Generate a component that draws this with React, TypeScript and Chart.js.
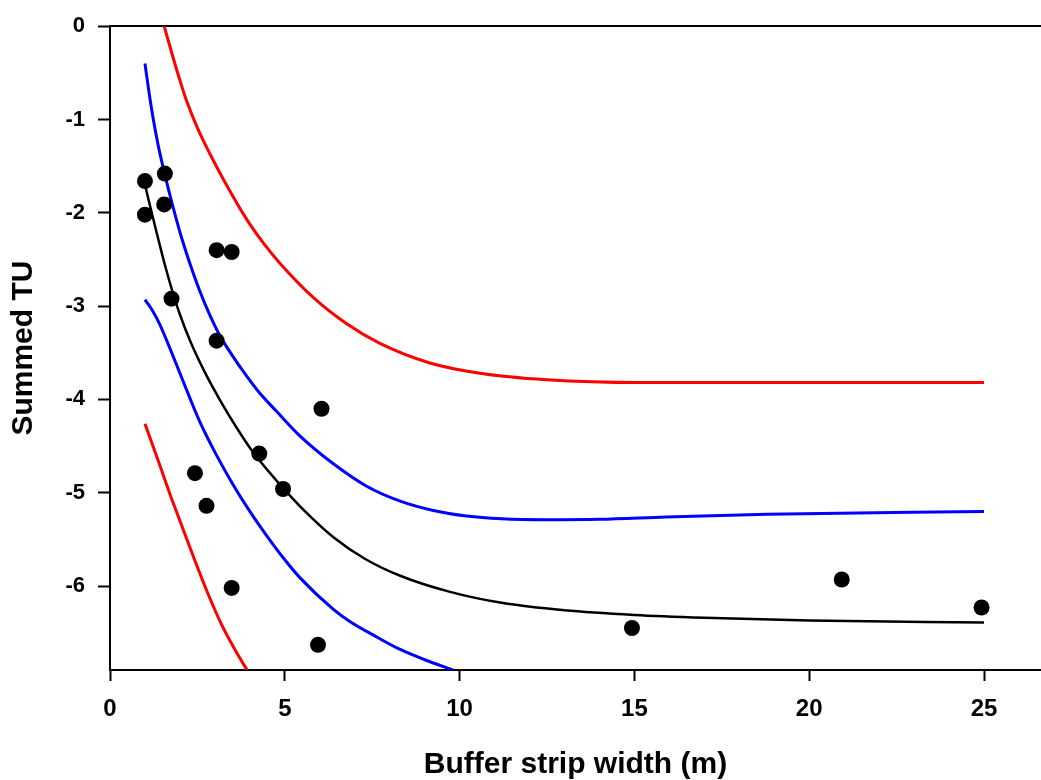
import React, { useEffect, useRef } from "react";
import { Chart, registerables } from "chart.js";

Chart.register(...registerables);

// Observed data points
const obsX = [1, 1, 1.57, 1.55, 3.05, 3.48, 1.76, 3.05, 6.05, 4.27, 4.95, 2.43, 2.76, 3.48, 5.95, 14.93, 20.93, 24.93];
const obsY = [-1.66, -2.02, -1.58, -1.91, -2.4, -2.42, -2.92, -3.37, -4.1, -4.58, -4.96, -4.79, -5.14, -6.02, -6.63, -6.45, -5.93, -6.23];

// Fitted curve (black)
const fitX = [1, 1.2, 1.4, 1.6, 1.8, 2.0, 2.3, 2.7, 3.15, 3.6, 4.1, 4.6, 5.0, 5.5, 6.4, 7.3, 8.3, 9.7, 11.2, 13, 15, 17, 20, 25];
const fitY = [-1.7, -2.01, -2.31, -2.6, -2.86, -3.09, -3.38, -3.7, -4.01, -4.29, -4.57, -4.8, -4.97, -5.17, -5.48, -5.71, -5.89, -6.06, -6.18, -6.26, -6.31, -6.34, -6.37, -6.39];

// Confidence band (blue)
const upperCIX = [1, 1.12, 1.24, 1.38, 1.53, 1.7, 1.89, 2.05, 2.3, 2.57, 2.85, 3.15, 3.5, 3.91, 4.3, 4.77, 5.43, 6.39, 7.34, 8.3, 9.25, 10.2, 11.2, 12.5, 14, 15.9, 18.8, 25];
const upperCIY = [-0.4, -0.72, -1.0, -1.28, -1.53, -1.79, -2.06, -2.27, -2.56, -2.84, -3.09, -3.32, -3.53, -3.75, -3.94, -4.13, -4.39, -4.69, -4.93, -5.09, -5.19, -5.25, -5.28, -5.29, -5.285, -5.26, -5.23, -5.2];
const lowerCIX = [1, 1.2, 1.43, 1.7, 2.0, 2.3, 2.57, 3.05, 3.5, 4.0, 4.5, 4.96, 5.43, 6.39, 6.86, 7.6, 8.3, 9.0, 9.81];
const lowerCIY = [-2.93, -3.04, -3.2, -3.44, -3.72, -4.0, -4.24, -4.6, -4.9, -5.2, -5.47, -5.7, -5.91, -6.25, -6.38, -6.54, -6.68, -6.79, -6.9];

// Prediction band (red)
const upperPIX = [1.55, 1.8, 2.0, 2.19, 2.5, 2.86, 3.3, 3.91, 4.4, 4.86, 5.82, 6.77, 7.72, 9.15, 10.58, 12.49, 15.16, 20, 25];
const upperPIY = [0, -0.33, -0.58, -0.8, -1.09, -1.37, -1.68, -2.07, -2.33, -2.54, -2.91, -3.19, -3.4, -3.61, -3.72, -3.79, -3.82, -3.82, -3.82];
const lowerPIX = [1, 1.4, 1.7, 2.0, 2.4, 2.8, 3.2, 3.6, 3.92];
const lowerPIY = [-4.26, -4.68, -5.0, -5.3, -5.7, -6.08, -6.42, -6.7, -6.9];

const X_MIN = 0;
const X_MAX = 26.63;
const Y_MIN = -6.9;
const Y_MAX = 0;

const xTitle = "Buffer strip width (m)";
const yTitle = "Summed TU";

const FONT = "'Liberation Sans', Arial, Helvetica, sans-serif";

function pts(xs: number[], ys: number[]) {
  return xs.map((x, i) => ({ x, y: ys[i] }));
}

function lineDs(xs: number[], ys: number[], color: string, width: number) {
  return {
    type: "line" as const,
    data: pts(xs, ys),
    borderColor: color,
    backgroundColor: color,
    borderWidth: width,
    pointRadius: 0,
    showLine: true,
    fill: false,
    cubicInterpolationMode: "monotone" as const,
  };
}

export default function App() {
  const ref = useRef<HTMLCanvasElement | null>(null);

  useEffect(() => {
    if (!ref.current) return;
    const chart = new Chart(ref.current, {
      type: "scatter",
      data: {
        datasets: [
          {
            type: "scatter",
            data: pts(obsX, obsY),
            pointRadius: 8,
            pointHoverRadius: 8,
            pointBackgroundColor: "#000",
            pointBorderColor: "#000",
            pointBorderWidth: 0,
            showLine: false,
          } as any,
          lineDs(fitX, fitY, "#000000", 2.5),
          lineDs(upperCIX, upperCIY, "#0000ff", 3),
          lineDs(lowerCIX, lowerCIY, "#0000ff", 3),
          lineDs(upperPIX, upperPIY, "#ff0000", 3),
          lineDs(lowerPIX, lowerPIY, "#ff0000", 3),
        ],
      },
      options: {
        animation: false,
        responsive: false,
        maintainAspectRatio: false,
        devicePixelRatio: 1,
        layout: { autoPadding: false, padding: { top: 25, right: 0, left: 0, bottom: 0 } },
        plugins: {
          legend: { display: false },
          tooltip: { enabled: false },
        },
        scales: {
          x: {
            type: "linear",
            position: "bottom",
            min: X_MIN,
            max: X_MAX,
            ticks: {
              stepSize: 5,
              includeBounds: false,
              color: "#000",
              padding: 14,
              maxRotation: 0,
              font: { family: FONT, size: 24, weight: "bold" },
            },
            grid: {
              display: true,
              drawOnChartArea: false,
              drawTicks: true,
              tickLength: 11,
              tickWidth: 2,
              tickColor: "#000",
            },
            border: { display: true, color: "#000", width: 2 },
            title: {
              display: true,
              text: xTitle,
              color: "#000",
              font: { family: FONT, size: 30, weight: "bold" },
              padding: { top: 0, bottom: -3 },
            },
            afterFit: (s: any) => {
              s.height = 110;
            },
          },
          xTop: {
            type: "linear",
            position: "top",
            min: X_MIN,
            max: X_MAX,
            ticks: { display: false },
            grid: { display: false, drawTicks: false },
            border: { display: true, color: "#000", width: 2 },
            afterFit: (s: any) => {
              s.height = 0;
            },
          },
          y: {
            type: "linear",
            position: "left",
            min: Y_MIN,
            max: Y_MAX,
            ticks: {
              stepSize: 1,
              includeBounds: false,
              color: "#000",
              padding: 13,
              font: { family: FONT, size: 22, weight: "bold" },
            },
            grid: {
              display: true,
              drawOnChartArea: false,
              drawTicks: true,
              tickLength: 12,
              tickWidth: 2,
              tickColor: "#000",
            },
            border: { display: true, color: "#000", width: 2 },
            title: {
              display: true,
              text: yTitle,
              color: "#000",
              font: { family: FONT, size: 30, weight: "bold" },
              padding: { top: 6, bottom: 0 },
            },
            afterFit: (s: any) => {
              s.width = 110;
            },
          },
        },
      } as any,
    });
    return () => chart.destroy();
  }, []);

  return (
    <div style={{ position: "absolute", left: 0, top: 0, width: 1041, height: 780, background: "#fff" }}>
      <canvas ref={ref} width={1041} height={780} style={{ display: "block" }} />
    </div>
  );
}
